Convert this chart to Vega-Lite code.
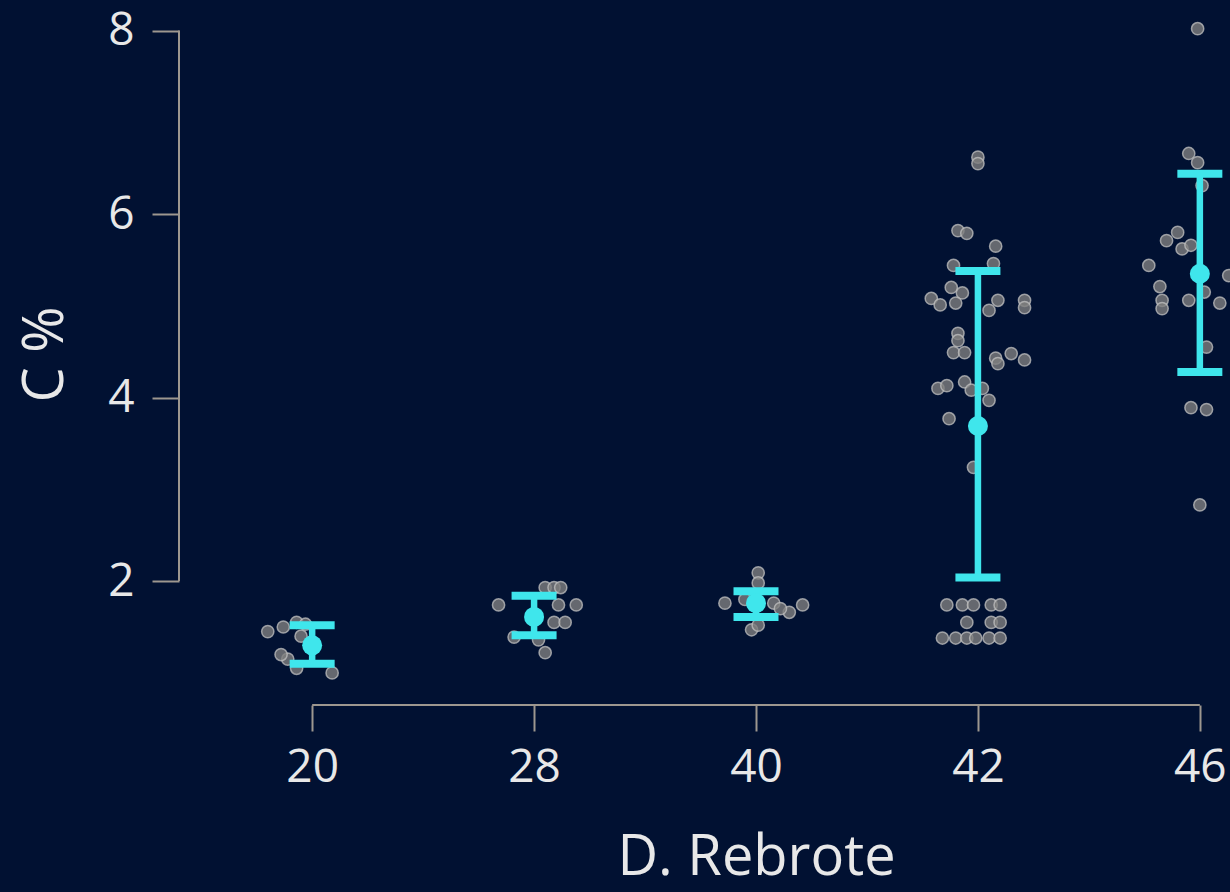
{
  "$schema": "https://vega.github.io/schema/vega-lite/v6.json",
  "width": 1154,
  "height": 702,
  "autosize": {"type": "none"},
  "padding": {"left": 179, "top": 3, "right": 0, "bottom": 187},
  "background": "#011132",
  "config": {"view": {"stroke": null}, "font": "Open Sans"},
  "datasets": {
    "points": [
      {"D": "20", "C": 1.45, "jitter": -0.20},
      {"D": "20", "C": 1.50, "jitter": -0.13},
      {"D": "20", "C": 1.55, "jitter": -0.07},
      {"D": "20", "C": 1.53, "jitter": -0.03},
      {"D": "20", "C": 1.40, "jitter": -0.05},
      {"D": "20", "C": 1.15, "jitter": -0.11},
      {"D": "20", "C": 1.05, "jitter": -0.07},
      {"D": "20", "C": 1.00, "jitter": 0.09},
      {"D": "20", "C": 1.20, "jitter": -0.14},
      {"D": "28", "C": 1.74, "jitter": -0.16},
      {"D": "28", "C": 1.93, "jitter": 0.05},
      {"D": "28", "C": 1.93, "jitter": 0.09},
      {"D": "28", "C": 1.93, "jitter": 0.12},
      {"D": "28", "C": 1.74, "jitter": 0.19},
      {"D": "28", "C": 1.74, "jitter": 0.11},
      {"D": "28", "C": 1.55, "jitter": 0.09},
      {"D": "28", "C": 1.55, "jitter": 0.14},
      {"D": "28", "C": 1.39, "jitter": -0.09},
      {"D": "28", "C": 1.36, "jitter": 0.02},
      {"D": "28", "C": 1.22, "jitter": 0.05},
      {"D": "28", "C": 1.62, "jitter": -0.01},
      {"D": "40", "C": 2.09, "jitter": 0.01},
      {"D": "40", "C": 1.98, "jitter": 0.01},
      {"D": "40", "C": 1.76, "jitter": -0.14},
      {"D": "40", "C": 1.76, "jitter": 0.08},
      {"D": "40", "C": 1.66, "jitter": 0.15},
      {"D": "40", "C": 1.74, "jitter": 0.21},
      {"D": "40", "C": 1.47, "jitter": -0.02},
      {"D": "40", "C": 1.52, "jitter": 0.01},
      {"D": "40", "C": 1.70, "jitter": 0.11},
      {"D": "40", "C": 1.80, "jitter": -0.05},
      {"D": "42", "C": 6.62, "jitter": 0.00},
      {"D": "42", "C": 6.55, "jitter": 0.00},
      {"D": "42", "C": 5.82, "jitter": -0.09},
      {"D": "42", "C": 5.79, "jitter": -0.05},
      {"D": "42", "C": 5.65, "jitter": 0.08},
      {"D": "42", "C": 5.44, "jitter": -0.11},
      {"D": "42", "C": 5.46, "jitter": 0.07},
      {"D": "42", "C": 5.20, "jitter": -0.12},
      {"D": "42", "C": 5.14, "jitter": -0.07},
      {"D": "42", "C": 5.08, "jitter": -0.21},
      {"D": "42", "C": 5.01, "jitter": -0.17},
      {"D": "42", "C": 5.03, "jitter": -0.10},
      {"D": "42", "C": 5.06, "jitter": 0.09},
      {"D": "42", "C": 4.95, "jitter": 0.05},
      {"D": "42", "C": 5.06, "jitter": 0.21},
      {"D": "42", "C": 4.98, "jitter": 0.21},
      {"D": "42", "C": 4.70, "jitter": -0.09},
      {"D": "42", "C": 4.62, "jitter": -0.09},
      {"D": "42", "C": 4.49, "jitter": -0.11},
      {"D": "42", "C": 4.49, "jitter": -0.06},
      {"D": "42", "C": 4.43, "jitter": 0.08},
      {"D": "42", "C": 4.48, "jitter": 0.15},
      {"D": "42", "C": 4.41, "jitter": 0.21},
      {"D": "42", "C": 4.37, "jitter": 0.09},
      {"D": "42", "C": 4.10, "jitter": -0.18},
      {"D": "42", "C": 4.13, "jitter": -0.14},
      {"D": "42", "C": 4.17, "jitter": -0.06},
      {"D": "42", "C": 4.08, "jitter": -0.03},
      {"D": "42", "C": 4.10, "jitter": 0.02},
      {"D": "42", "C": 3.97, "jitter": 0.05},
      {"D": "42", "C": 3.77, "jitter": -0.13},
      {"D": "42", "C": 3.24, "jitter": -0.02},
      {"D": "42", "C": 1.74, "jitter": -0.14},
      {"D": "42", "C": 1.74, "jitter": -0.07},
      {"D": "42", "C": 1.74, "jitter": -0.02},
      {"D": "42", "C": 1.74, "jitter": 0.06},
      {"D": "42", "C": 1.74, "jitter": 0.10},
      {"D": "42", "C": 1.55, "jitter": -0.05},
      {"D": "42", "C": 1.55, "jitter": 0.06},
      {"D": "42", "C": 1.55, "jitter": 0.10},
      {"D": "42", "C": 1.38, "jitter": -0.16},
      {"D": "42", "C": 1.38, "jitter": -0.10},
      {"D": "42", "C": 1.38, "jitter": -0.05},
      {"D": "42", "C": 1.38, "jitter": -0.01},
      {"D": "42", "C": 1.38, "jitter": 0.05},
      {"D": "42", "C": 1.38, "jitter": 0.10},
      {"D": "46", "C": 8.02, "jitter": -0.01},
      {"D": "46", "C": 6.66, "jitter": -0.05},
      {"D": "46", "C": 6.56, "jitter": -0.01},
      {"D": "46", "C": 6.31, "jitter": 0.01},
      {"D": "46", "C": 5.80, "jitter": -0.10},
      {"D": "46", "C": 5.71, "jitter": -0.15},
      {"D": "46", "C": 5.62, "jitter": -0.08},
      {"D": "46", "C": 5.66, "jitter": -0.04},
      {"D": "46", "C": 5.44, "jitter": -0.23},
      {"D": "46", "C": 5.33, "jitter": 0.13},
      {"D": "46", "C": 5.21, "jitter": -0.18},
      {"D": "46", "C": 5.06, "jitter": -0.17},
      {"D": "46", "C": 4.97, "jitter": -0.17},
      {"D": "46", "C": 5.06, "jitter": -0.05},
      {"D": "46", "C": 5.03, "jitter": 0.09},
      {"D": "46", "C": 5.15, "jitter": 0.02},
      {"D": "46", "C": 4.55, "jitter": 0.03},
      {"D": "46", "C": 3.89, "jitter": -0.04},
      {"D": "46", "C": 3.87, "jitter": 0.03},
      {"D": "46", "C": 2.83, "jitter": 0.00}
    ],
    "summary": [
      {"D": "20", "mean": 1.30, "lo": 1.10, "hi": 1.52},
      {"D": "28", "mean": 1.61, "lo": 1.41, "hi": 1.84},
      {"D": "40", "mean": 1.76, "lo": 1.61, "hi": 1.89},
      {"D": "42", "mean": 3.69, "lo": 2.04, "hi": 5.38},
      {"D": "46", "mean": 5.35, "lo": 4.28, "hi": 6.44}
    ]
  },
  "layer": [
    {
      "data": {"name": "points"},
      "mark": {"type": "circle", "size": 150, "fill": "#7e7e7e", "fillOpacity": 0.8, "stroke": "#c2c2c2", "strokeWidth": 1.5, "strokeOpacity": 0.75},
      "encoding": {
        "x": {
          "field": "D", "type": "ordinal",
          "scale": {"type": "point", "domain": ["20", "28", "40", "42", "46"], "padding": 0.6},
          "axis": {
            "title": "D. Rebrote", "domain": false, "grid": false, "ticks": true,
            "tickSize": 26, "tickWidth": 2, "tickColor": "#9d978f",
            "labelFontSize": 46, "labelColor": "#e8e8e8", "labelPadding": 14, "labelAngle": 0,
            "titleFontSize": 56, "titleColor": "#e8e8e8", "titleFontWeight": "normal", "titlePadding": 40
          }
        },
        "xOffset": {"field": "jitter", "type": "quantitative", "scale": {"domain": [-1, 1], "range": [-222, 222]}},
        "y": {
          "field": "C", "type": "quantitative",
          "scale": {"domain": [0.65, 8.3], "nice": false, "zero": false},
          "axis": {
            "title": "C %", "values": [2, 4, 6, 8], "format": "d", "domain": false, "grid": false,
            "tickSize": 27, "tickWidth": 2, "tickColor": "#9d978f",
            "labelFontSize": 46, "labelColor": "#e8e8e8", "labelPadding": 18,
            "titleFontSize": 56, "titleColor": "#e8e8e8", "titleFontWeight": "normal",
            "titleX": -134, "titleBaseline": "middle", "titleAlign": "center"
          }
        }
      }
    },
    {
      "data": {"name": "summary"},
      "mark": {"type": "rule", "color": "#3fe6ec", "strokeWidth": 6.5},
      "encoding": {
        "x": {"field": "D", "type": "ordinal", "title": "D. Rebrote"},
        "y": {"field": "lo", "type": "quantitative", "title": "C %"},
        "y2": {"field": "hi"}
      }
    },
    {
      "data": {"name": "summary"},
      "mark": {"type": "tick", "color": "#3fe6ec", "size": 45, "thickness": 8, "opacity": 1},
      "encoding": {
        "x": {"field": "D", "type": "ordinal", "title": "D. Rebrote"},
        "y": {"field": "lo", "type": "quantitative", "title": "C %"}
      }
    },
    {
      "data": {"name": "summary"},
      "mark": {"type": "tick", "color": "#3fe6ec", "size": 45, "thickness": 8, "opacity": 1},
      "encoding": {
        "x": {"field": "D", "type": "ordinal", "title": "D. Rebrote"},
        "y": {"field": "hi", "type": "quantitative", "title": "C %"}
      }
    },
    {
      "data": {"name": "summary"},
      "mark": {"type": "circle", "color": "#3fe6ec", "size": 400, "opacity": 1},
      "encoding": {
        "x": {"field": "D", "type": "ordinal", "title": "D. Rebrote"},
        "y": {"field": "mean", "type": "quantitative", "title": "C %"}
      }
    },
    {
      "data": {"values": [{}]},
      "mark": {"type": "rule", "color": "#9d978f", "strokeWidth": 2},
      "encoding": {
        "x": {"datum": "20", "title": "D. Rebrote"},
        "x2": {"datum": "46"},
        "y": {"datum": 0.65, "title": "C %"}
      }
    },
    {
      "data": {"values": [{}]},
      "mark": {"type": "rule", "color": "#9d978f", "strokeWidth": 2},
      "encoding": {
        "x": {"value": 0},
        "y": {"datum": 2, "title": "C %"},
        "y2": {"datum": 8}
      }
    }
  ]
}
